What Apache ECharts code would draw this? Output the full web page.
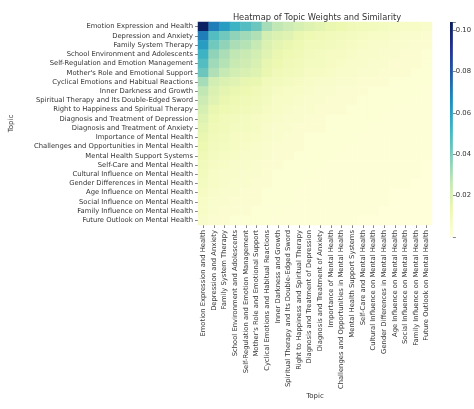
<!DOCTYPE html>
<html>
<head>
<meta charset="utf-8">
<script src="https://cdn.jsdelivr.net/npm/echarts@6/dist/echarts.min.js"></script>
<style>
  html, body { margin: 0; padding: 0; background: #ffffff; }
  #chart { width: 474px; height: 409px; }
</style>
</head>
<body>
<div id="chart"></div>
<script>
// Topic names (same order on both axes)
const topics = [
  "Emotion Expression and Health",
  "Depression and Anxiety",
  "Family System Therapy",
  "School Environment and Adolescents",
  "Self-Regulation and Emotion Management",
  "Mother's Role and Emotional Support",
  "Cyclical Emotions and Habitual Reactions",
  "Inner Darkness and Growth",
  "Spiritual Therapy and Its Double-Edged Sword",
  "Right to Happiness and Spiritual Therapy",
  "Diagnosis and Treatment of Depression",
  "Diagnosis and Treatment of Anxiety",
  "Importance of Mental Health",
  "Challenges and Opportunities in Mental Health",
  "Mental Health Support Systems",
  "Self-Care and Mental Health",
  "Cultural Influence on Mental Health",
  "Gender Differences in Mental Health",
  "Age Influence on Mental Health",
  "Social Influence on Mental Health",
  "Family Influence on Mental Health",
  "Future Outlook on Mental Health"
];

// Weight/similarity matrix, row i = topic i
const matrixRows = [
  [0.102,0.070,0.061,0.053,0.048,0.043,0.032,0.027,0.024,0.021,0.018,0.016,0.014,0.013,0.011,0.010,0.009,0.008,0.007,0.006,0.006,0.005],
  [0.070,0.048,0.042,0.036,0.033,0.030,0.022,0.019,0.017,0.014,0.012,0.011,0.010,0.009,0.008,0.007,0.006,0.006,0.005,0.004,0.004,0.003],
  [0.061,0.042,0.036,0.031,0.029,0.026,0.019,0.016,0.014,0.012,0.010,0.010,0.009,0.008,0.007,0.006,0.005,0.005,0.004,0.004,0.003,0.003],
  [0.053,0.036,0.031,0.027,0.025,0.022,0.017,0.014,0.012,0.011,0.009,0.008,0.007,0.007,0.006,0.005,0.005,0.004,0.004,0.003,0.003,0.002],
  [0.048,0.033,0.029,0.025,0.023,0.020,0.015,0.013,0.011,0.010,0.008,0.008,0.007,0.006,0.005,0.005,0.004,0.004,0.003,0.003,0.003,0.002],
  [0.043,0.030,0.026,0.022,0.020,0.018,0.014,0.011,0.010,0.009,0.007,0.007,0.006,0.005,0.005,0.004,0.004,0.003,0.003,0.003,0.002,0.002],
  [0.032,0.022,0.019,0.017,0.015,0.014,0.010,0.009,0.008,0.007,0.006,0.005,0.005,0.004,0.004,0.003,0.003,0.003,0.002,0.002,0.002,0.002],
  [0.027,0.019,0.016,0.014,0.013,0.011,0.009,0.007,0.006,0.006,0.005,0.004,0.004,0.003,0.003,0.003,0.002,0.002,0.002,0.002,0.002,0.001],
  [0.024,0.017,0.014,0.012,0.011,0.010,0.008,0.006,0.006,0.005,0.004,0.004,0.003,0.003,0.003,0.002,0.002,0.002,0.002,0.002,0.001,0.001],
  [0.021,0.014,0.012,0.011,0.010,0.009,0.007,0.006,0.005,0.004,0.004,0.003,0.003,0.003,0.002,0.002,0.002,0.002,0.001,0.001,0.001,0.001],
  [0.018,0.012,0.010,0.009,0.008,0.007,0.006,0.005,0.004,0.004,0.003,0.003,0.002,0.002,0.002,0.002,0.002,0.001,0.001,0.001,0.001,0.001],
  [0.016,0.011,0.010,0.008,0.008,0.007,0.005,0.004,0.004,0.003,0.003,0.003,0.002,0.002,0.002,0.002,0.001,0.001,0.001,0.001,0.001,0.001],
  [0.014,0.010,0.009,0.007,0.007,0.006,0.005,0.004,0.003,0.003,0.002,0.002,0.002,0.002,0.002,0.001,0.001,0.001,0.001,0.001,0.001,0.001],
  [0.013,0.009,0.008,0.007,0.006,0.005,0.004,0.003,0.003,0.003,0.002,0.002,0.002,0.002,0.001,0.001,0.001,0.001,0.001,0.001,0.001,0.001],
  [0.011,0.008,0.007,0.006,0.005,0.005,0.004,0.003,0.003,0.002,0.002,0.002,0.002,0.001,0.001,0.001,0.001,0.001,0.001,0.001,0.001,0.001],
  [0.010,0.007,0.006,0.005,0.005,0.004,0.003,0.003,0.002,0.002,0.002,0.002,0.001,0.001,0.001,0.001,0.001,0.001,0.001,0.001,0.001,0.000],
  [0.009,0.006,0.005,0.005,0.004,0.004,0.003,0.002,0.002,0.002,0.002,0.001,0.001,0.001,0.001,0.001,0.001,0.001,0.001,0.001,0.001,0.000],
  [0.008,0.006,0.005,0.004,0.004,0.003,0.003,0.002,0.002,0.002,0.001,0.001,0.001,0.001,0.001,0.001,0.001,0.001,0.001,0.001,0.000,0.000],
  [0.007,0.005,0.004,0.004,0.003,0.003,0.002,0.002,0.002,0.001,0.001,0.001,0.001,0.001,0.001,0.001,0.001,0.001,0.000,0.000,0.000,0.000],
  [0.006,0.004,0.004,0.003,0.003,0.003,0.002,0.002,0.002,0.001,0.001,0.001,0.001,0.001,0.001,0.001,0.001,0.001,0.000,0.000,0.000,0.000],
  [0.006,0.004,0.003,0.003,0.003,0.002,0.002,0.002,0.001,0.001,0.001,0.001,0.001,0.001,0.001,0.001,0.001,0.000,0.000,0.000,0.000,0.000],
  [0.005,0.003,0.003,0.002,0.002,0.002,0.002,0.001,0.001,0.001,0.001,0.001,0.001,0.001,0.001,0.000,0.000,0.000,0.000,0.000,0.000,0.000]
];

// Colour scale range and colourbar ticks
const scaleMin = 0.0;
const scaleMax = 0.104;
const colorbarTicks = [0.02, 0.04, 0.06, 0.08, 0.10];

// YlGnBu palette, low to high
const ylGnBu = ['#ffffd9','#edf8b1','#c7e9b4','#7fcdbb','#41b6c4','#1d91c0','#225ea8','#253494','#081d58'];

const cells = [];
matrixRows.forEach((row, i) => {
  row.forEach((v, j) => cells.push([j, i, v]));
});

const font = 'DejaVu Sans';
const textColor = '#333333';
const labelSize = 6.8;

const chart = echarts.init(document.getElementById('chart'), null, { renderer: 'canvas' });

chart.setOption({
  animation: false,
  backgroundColor: '#ffffff',
  title: {
    text: 'Heatmap of Topic Weights and Similarity',
    left: 312,
    textAlign: 'center',
    top: 9,
    textStyle: { fontFamily: font, fontSize: 8.3, fontWeight: 'normal', color: textColor }
  },
  grid: [
    { left: 192, top: 22, width: 240, height: 215 },
    { left: 450, top: 22, width: 10, height: 215 }
  ],
  xAxis: [
    {
      type: 'category', gridIndex: 0, data: topics,
      name: 'Topic', nameLocation: 'middle', nameGap: 161,
      nameTextStyle: { fontFamily: font, fontSize: 7, color: textColor },
      axisLine: { show: false },
      axisTick: { show: true, alignWithLabel: true, length: 3, lineStyle: { color: textColor, width: 0.6 } },
      axisLabel: { rotate: 90, interval: 0, fontFamily: font, fontSize: labelSize, color: textColor, margin: 5 },
      splitLine: { show: false }
    },
    {
      type: 'category', gridIndex: 1, data: ['c'],
      show: false
    }
  ],
  yAxis: [
    {
      type: 'category', gridIndex: 0, data: topics, inverse: true,
      name: 'Topic', nameLocation: 'middle', nameGap: 183, nameRotate: 90,
      nameTextStyle: { fontFamily: font, fontSize: 7, color: textColor },
      axisLine: { show: false },
      axisTick: { show: true, alignWithLabel: true, length: 3, lineStyle: { color: textColor, width: 0.6 } },
      axisLabel: { interval: 0, fontFamily: font, fontSize: labelSize, color: textColor, margin: 5 },
      splitLine: { show: false }
    },
    {
      type: 'value', gridIndex: 1, position: 'right',
      min: scaleMin, max: scaleMax, interval: 0.02,
      axisLine: { show: false },
      axisTick: { show: true, length: 3, lineStyle: { color: textColor, width: 0.6 } },
      axisLabel: {
        fontFamily: font, fontSize: labelSize, color: textColor, margin: 3,
        formatter: v => colorbarTicks.some(t => Math.abs(t - v) < 1e-9) ? v.toFixed(2) : ''
      },
      splitLine: { show: false }
    }
  ],
  visualMap: {
    show: false,
    type: 'continuous',
    seriesIndex: 0,
    min: scaleMin,
    max: scaleMax,
    inRange: { color: ylGnBu }
  },
  series: [
    {
      type: 'heatmap',
      xAxisIndex: 0, yAxisIndex: 0,
      data: cells,
      itemStyle: { borderWidth: 0 },
      emphasis: { disabled: true }
    },
    {
      // colourbar: a gradient strip spanning the value axis
      type: 'custom',
      xAxisIndex: 1, yAxisIndex: 1,
      data: [[0, scaleMin, scaleMax]],
      renderItem: function (params, api) {
        const bottom = api.coord([api.value(0), api.value(1)]);
        const top = api.coord([api.value(0), api.value(2)]);
        const cs = params.coordSys;
        const stops = ylGnBu.map((c, k) => ({ offset: 1 - k / (ylGnBu.length - 1), color: c }));
        return {
          type: 'rect',
          shape: { x: cs.x, y: top[1], width: cs.width, height: bottom[1] - top[1] },
          style: { fill: new echarts.graphic.LinearGradient(0, 0, 0, 1, stops) }
        };
      }
    }
  ]
});
</script>
</body>
</html>
